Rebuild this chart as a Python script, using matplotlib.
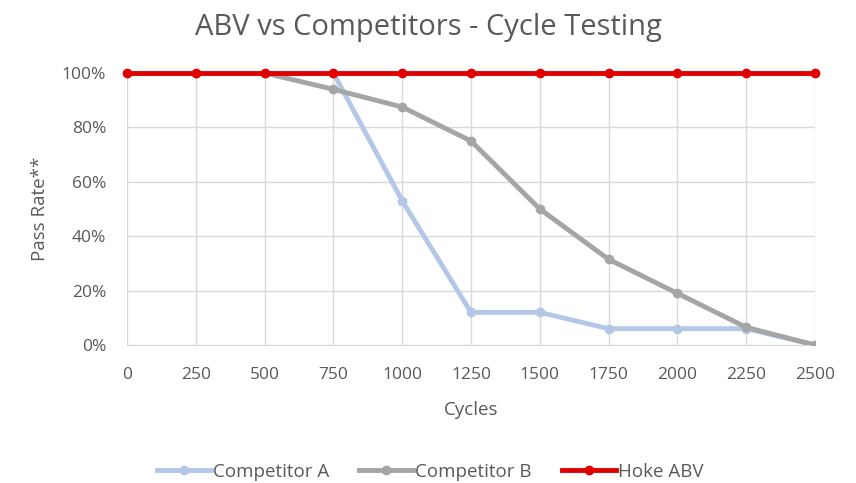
import matplotlib
matplotlib.use("Agg")
import matplotlib.pyplot as plt
from matplotlib.ticker import FuncFormatter

cycles = [0, 250, 500, 750, 1000, 1250, 1500, 1750, 2000, 2250, 2500]
comp_a = [1.00, 1.00, 1.00, 1.00, 0.53, 0.12, 0.12, 0.06, 0.06, 0.06, 0.00]
comp_b = [1.00, 1.00, 1.00, 0.94, 0.875, 0.75, 0.50, 0.315, 0.19, 0.065, 0.00]
hoke = [1.00] * 11
x_ticks = [0, 250, 500, 750, 1000, 1250, 1500, 1750, 2000, 2250, 2500]
y_ticks = [0, 0.2, 0.4, 0.6, 0.8, 1.0]

plt.rcParams['font.family'] = ['Open Sans', 'DejaVu Sans']
txt = '#595959'

fig = plt.figure(figsize=(8.56, 4.83), dpi=100)
ax = fig.add_axes([127/856, 1 - 345/483, (815-127)/856, (345-73)/483])

ax.plot(cycles, comp_a, color='#B4C7E7', lw=3.5, marker='o', ms=6, label='Competitor A', zorder=3)
ax.plot(cycles, comp_b, color='#A5A5A5', lw=3.5, marker='o', ms=6, label='Competitor B', zorder=4)
ax.plot(cycles, hoke, color='#E00000', lw=3.5, marker='o', ms=6, label='Hoke ABV', zorder=5, clip_on=False)

ax.set_xlim(0, 2500)
ax.set_ylim(0, 1.0)
ax.set_xticks(x_ticks)
ax.set_yticks(y_ticks)
ax.yaxis.set_major_formatter(FuncFormatter(lambda v, p: f"{int(round(v*100))}%"))
ax.grid(True, color='#D9D9D9', lw=1)
ax.set_axisbelow(True)
for s in ['top', 'right', 'left']:
    ax.spines[s].set_visible(False)
ax.spines['bottom'].set_color('#D9D9D9')
ax.tick_params(axis='both', length=0, labelsize=12.5, colors=txt)
ax.tick_params(axis='x', pad=16)
ax.tick_params(axis='y', pad=15)

ax.set_xlabel('Cycles', fontsize=13.5, color=txt, labelpad=13)
ax.set_ylabel('Pass Rate**', fontsize=13.5, color=txt, labelpad=9)
fig.text(428/856, 1 - 27/483, 'ABV vs Competitors - Cycle Testing', ha='center', va='center',
         fontsize=21, color=txt)

fig.legend(loc='center', bbox_to_anchor=(430/856, 1 - 472/483), ncol=3, frameon=False,
           fontsize=13.5, labelcolor=txt, handlelength=2.9, handletextpad=0.1, columnspacing=1.6)

fig.savefig('out.png', dpi=100)
